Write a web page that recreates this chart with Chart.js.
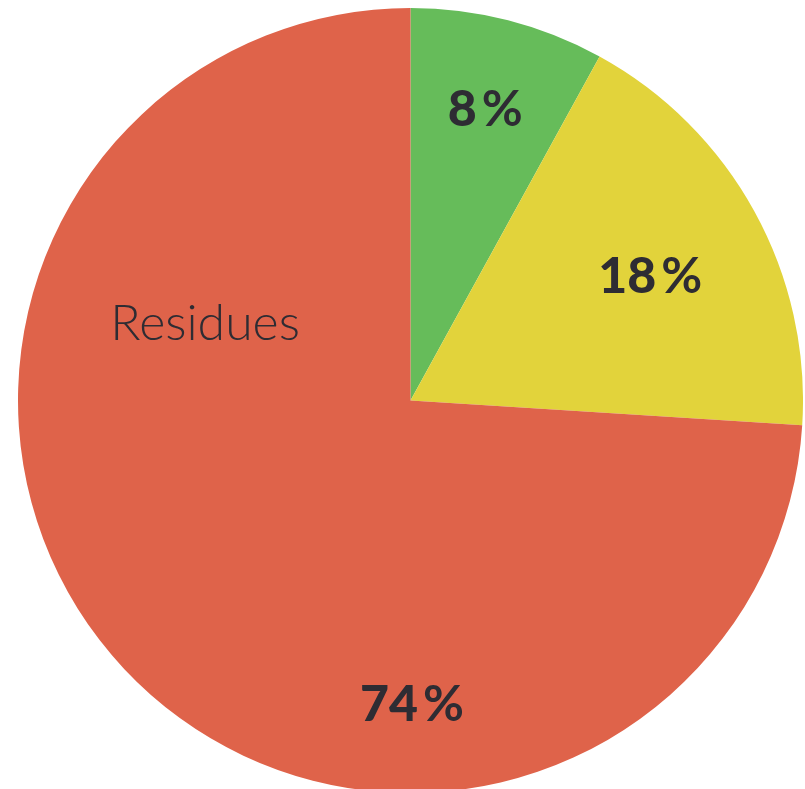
<!DOCTYPE html>
<html>
<head>
<meta charset="utf-8">
<script src="https://cdn.jsdelivr.net/npm/chart.js@4/dist/chart.umd.min.js"></script>
<style>
  html, body { margin: 0; padding: 0; background: #fff; overflow: hidden; }
  body { width: 805px; height: 789px; position: relative; }
  #wrap { position: absolute; left: 18px; top: 8px; width: 785px; height: 785px; }
</style>
</head>
<body>
<div id="wrap"><canvas id="pie"></canvas></div>
<script>
// data
const categories = ['Green', 'Yellow', 'Residues'];
const shares = [8, 18, 74];
const sliceColors = ['#66bc5a', '#e2d33b', '#df634a'];

// label placement: angle in degrees clockwise from top, distance as fraction of radius
const labelSpots = [
    { angle: 14.3, dist: 0.77 },
    { angle: 62.3, dist: 0.69 },
    { angle: 179.7, dist: 0.77 }
];
const nameSpot = { angle: 290.9, dist: 0.56 };

const textColor = '#2e2c33';

const labelPlugin = {
    id: 'sliceLabels',
    afterDatasetsDraw(chart) {
        const ctx = chart.ctx;
        const arc = chart.getDatasetMeta(0).data[0];
        const cx = arc.x, cy = arc.y, r = arc.outerRadius;
        const at = (spot) => {
            const a = spot.angle * Math.PI / 180;
            return { x: cx + Math.sin(a) * r * spot.dist, y: cy - Math.cos(a) * r * spot.dist };
        };
        ctx.save();
        ctx.fillStyle = textColor;
        ctx.textBaseline = 'alphabetic';

        shares.forEach((v, i) => {
            const p = at(labelSpots[i]);
            const num = String(v);
            ctx.font = '900 50px Lato';
            const wNum = ctx.measureText(num).width;
            ctx.font = '700 50px Lato';
            const wPct = ctx.measureText('%').width;
            const gap = 5;
            const total = wNum + gap + wPct;
            const x0 = p.x - total / 2;
            const base = p.y + 18;
            ctx.textAlign = 'left';
            ctx.font = '900 50px Lato';
            ctx.fillText(num, x0, base);
            ctx.font = '700 50px Lato';
            ctx.fillText('%', x0 + wNum + gap, base);
        });

        const n = at(nameSpot);
        ctx.font = '300 50px Lato';
        ctx.textAlign = 'center';
        ctx.fillText(categories[2], n.x, n.y + 18);
        ctx.restore();
    }
};

new Chart(document.getElementById('pie'), {
    type: 'pie',
    data: {
        labels: categories,
        datasets: [{
            data: shares,
            backgroundColor: sliceColors,
            borderWidth: 0
        }]
    },
    options: {
        responsive: true,
        maintainAspectRatio: false,
        animation: false,
        layout: { padding: 0 },
        plugins: {
            legend: { display: false },
            tooltip: { enabled: false }
        }
    },
    plugins: [labelPlugin]
});
</script>
</body>
</html>
